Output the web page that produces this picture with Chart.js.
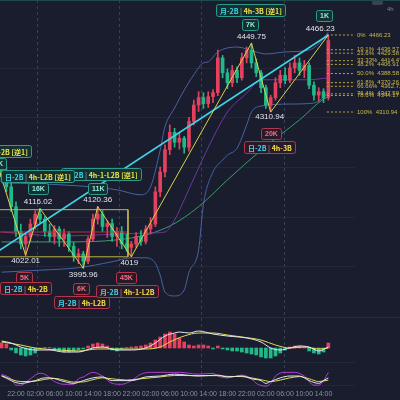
<!DOCTYPE html>
<html>
<head>
<meta charset="utf-8">
<title>XAUUSD 1h</title>
<script src="https://cdn.jsdelivr.net/npm/chart.js@4.4.1/dist/chart.umd.min.js"></script>
<style>
  html, body { margin: 0; padding: 0; background: #191d2d; }
  #wrap { position: relative; width: 400px; height: 400px; overflow: hidden; background: #191d2d; }
  #wrap canvas { position: absolute; left: 0; }
  #price_chart { top: 0; }
  #macd_chart { top: 318px; }
  #kdj_chart { top: 365px; }
  .rule { position: absolute; left: 0; width: 400px; height: 1px; }
</style>
</head>
<body>
<div id="wrap">
  <canvas id="price_chart" width="400" height="318"></canvas>
  <canvas id="macd_chart" width="400" height="47"></canvas>
  <canvas id="kdj_chart" width="400" height="35"></canvas>
  <div class="rule" style="top:0;background:#1d4a4d"></div>
  <div class="rule" style="top:317px;background:#262b3c"></div>
</div>
<script>
// ---------- candles (1h), x = hours counted from 18:00 of day one ----------
const hours = [1,2,3,4,5,6,7,8,9,10,11,12,13,14,15,16,17,18,19,20,21,22,23,24,25,26,27,28,29,30,
  31,32,33,34,35,36,37,38,39,40,41,42,43,44,45,46,47,48,49,50,51,52,53,54,55,56,57,58,59,60,
  61,62,63,64,65,66,67,68,69];
const open = [4200,4180,4160,4120,4070,4045,4060,4085,4105,4095,
  4070,4060,4075,4055,4065,4040,4020,4025,4010,4055,
  4095,4105,4080,4086,4060,4070,4045,4038,4045,4060,
  4050,4075,4085,4150,4190,4235,4270,4250,4258,4240,
  4292,4325,4340,4328,4342,4350,4420,4390,4370,4395,
  4380,4420,4435,4410,4390,4360,4325,4340,4370,4385,
  4375,4400,4410,4395,4405,4365,4345,4352,4340];
const high = [4215,4200,4170,4130,4085,4065,4095,4112,4116.02,4100,
  4085,4082,4080,4075,4070,4048,4035,4030,4060,4105,
  4120.36,4112,4092,4095,4078,4080,4065,4050,4068,4072,
  4082,4098,4160,4200,4245,4285,4278,4268,4262,4300,
  4335,4352,4350,4352,4356,4436,4425,4398,4405,4402,
  4430,4442,4449.75,4418,4395,4365,4345,4380,4395,4400,
  4410,4425,4420,4415,4410,4372,4360,4358,4466.23];
const low = [4170,4150,4110,4060,4035,4022.01,4050,4075,4088,4060,
  4050,4045,4040,4040,4030,4010,4005,3995.96,4005,4050,
  4085,4070,4058,4050,4040,4035,4030,4019,4038,4042,
  4045,4065,4080,4140,4180,4225,4240,4236,4228,4232,
  4285,4312,4318,4320,4330,4344,4380,4358,4362,4370,
  4375,4410,4400,4382,4350,4318,4310.94,4335,4360,4368,
  4370,4390,4385,4380,4358,4335,4332,4330,4335];
const close = [4180,4160,4120,4070,4045,4060,4085,4105,4095,4070,
  4060,4075,4055,4065,4040,4020,4025,4010,4055,4095,
  4105,4080,4086,4060,4070,4045,4038,4045,4060,4050,
  4075,4085,4150,4190,4235,4270,4250,4258,4240,4292,
  4325,4340,4328,4342,4350,4420,4390,4370,4395,4380,
  4420,4435,4410,4390,4360,4325,4340,4370,4385,4375,
  4400,4410,4395,4405,4365,4345,4352,4340,4455];

// time axis
const tickHours = [4,8,12,16,20,24,28,32,36,40,44,48,52,56,60,64,68];
const tickLabels = ['22:00','02:00','06:00','10:00','14:00','18:00','22:00','02:00','06:00',
  '10:00','14:00','18:00','22:00','02:00','06:00','10:00','14:00'];
const gridHours = [8.4, 25.5, 42.6, 59.7];

// bollinger bands and moving averages (read at a few hours)
const bbUpperHours = [1,9,17,25,30,32,34,35,37,39,41,43,44,46,50,54,56,60,65,67,69];
const bbUpper = [4168,4166,4162,4154,4144,4160,4234,4281,4319,4355,4386,4410,4412,4432,4442,4432,4428,4432,4436,4448,4472];
const bbLowerHours = [1,9,17,24,28,31,33,34,35,37,39,40,42,43,45,47,48,50,52,53,55,61,66,69];
const bbLower = [3988,3992,3997,4009,4017,4017,4006,3982,3948,3940,3952,3988,4033,4124,4190,4214,4224,4238,4285,4311,4323,4327,4329,4349];
const maPurpleHours = [1,13,26,32,35,37,39,42,45,48,52,55,61,65,69];
const maPurple = [4069,4061,4065,4067,4069,4093,4134,4198,4259,4311,4349,4376,4376,4376,4380];
const maGreenHours = [1,13,28,36,42,48,55,59,63,68,69];
const maGreen = [4049,4049,4057,4081,4120,4174,4234,4265,4295,4337,4341];

// drawings
const zigzagHours = [-1,6,9,18,21,28,53,57,69];
const zigzagPrices = [4240,4022.01,4116.02,3995.96,4120.36,4019,4449.75,4310.94,4466.23];
const trendHours = [0, 69];
const trendPrices = [4028.5, 4466.23];
const rangeHours = [-1, 27.3];
const rangePrices = [4114, 4019];
const redLinePrice = 4069;
const fibNames = ['0%','19.1%','23.6%','33.33%','38.2%','50.0%','61.8%','66.66%','76.4%','78.6%','100%'];
const fibPrices = [4466.23,4436.57,4429.58,4414.47,4406.91,4388.58,4370.26,4362.71,4347.59,4344.17,4310.94];
const fibStart = 68.7;

// MACD
const macdHist = [2.5,2,-1,-2.5,-3.5,-4,-3.5,-2.5,-0.5,0.25,
  0.25,-1,-1.5,-2,-2,-1.5,-1,-0.5,1,2,
  2.5,2,1,-1,-1.5,-0.5,0.25,0.5,0.75,1,
  1.5,2.5,4,5.5,7,8,7,5,3,1.5,
  1,1.5,1.5,1,-0.5,1,-0.5,-1,-1.5,-1.5,
  -2,-2.5,-3,-3.5,-4.5,-5,-5,-4,-2.5,-1,
  0.5,1,1,0.5,-1.5,-2.5,-3,-2,2.5];
const difHours = [1,3,5,8,11,14,17,20,22,25,28,31,33,35,37,38,40,42,45,48,52,55,57,59,61,63,65,67,69];
const dif = [3.5,2.5,0.5,-1,-1,-2,-2,0,0.5,-1,-1,0,2.5,6,7.5,8,7.5,8.5,7,6,5,3,0,-1,0,1,0.5,-1.5,0.5];
const deaHours = [1,5,8,13,17,21,25,31,34,36,39,42,45,48,51,55,58,61,64,67,69];
const dea = [3,1.5,0,-1,-1.5,-0.5,-0.5,-0.5,0.5,3,6,7.5,7.5,6.5,5.5,4,1.5,0,0.5,-0.5,0];

// KDJ
const kHours = [1,5,8,10,11,14,16,18,20,22,24,28,31,34,37,42,46,48,51,53,55,56,57,59,61,63,65,67,68,69];
const kLine = [60,20,35,50,50,30,20,35,50,55,35,35,55,60,70,60,65,55,60,45,35,20,30,50,60,60,35,20,35,50];
const dHours = [1,5,8,10,12,14,16,18,20,22,24,27,30,34,37,42,46,48,51,53,55,57,59,61,63,65,67,69];
const dLine = [62,30,32,42,47,38,27,28,40,50,45,38,45,55,63,62,62,58,57,50,40,30,38,50,57,45,30,38];
const jHours = [1,3,4,5,7,9,10,12,14,16,17,18,20,22,24,26,28,30,32,34,38,42,45,46,48,51,53,54,56,57,58,60,62,64,66,67,68,69];
const jLine = [70,45,10,10,45,75,70,30,15,15,45,55,80,60,20,15,35,70,80,80,80,70,75,60,50,65,45,20,5,20,60,80,80,60,10,10,35,80];

// tags next to pivots: [hour, price, dx, dy, kind, text, text2]
const pivotTags = [
  [-1, 4240, 5, 4, 'boxTeal', '日-2B', '4h-2B [逆1]'],
  [-1, 4240, 6, 16, 'kTeal', '8K'],
  [21, 4120.36, 3, -33, 'boxTeal', '日-2B', '4h-1-L2B [逆1]'],
  [21, 4120.36, 0, -18, 'kTeal', '11K'],
  [21, 4120.36, 0, -7, 'price', '4120.36'],
  [9, 4116.02, -3, -33, 'boxTeal', '日-2B', '4h-L2B [逆1]'],
  [9, 4116.02, -2, -20, 'kTeal', '16K'],
  [9, 4116.02, -2, -7, 'price', '4116.02'],
  [6, 4022.01, 0, 5, 'price', '4022.01'],
  [6, 4022.01, -2, 22, 'kRed', '5K'],
  [6, 4022.01, 0, 33, 'boxRed', '日-2B', '4h-2B'],
  [18, 3995.96, 0, 7, 'price', '3995.96'],
  [18, 3995.96, -2, 20, 'kRed', '6K'],
  [18, 3995.96, -2, 34, 'boxRed', '月-2B', '4h-L2B'],
  [28, 4019, -2, 6, 'price', '4019'],
  [28, 4019, -5, 21, 'kRed', '45K'],
  [28, 4019, -4, 34, 'boxRed', '月-2B', '4h-1-L2B'],
  [53, 4449.75, 0, -6, 'price', '4449.75'],
  [53, 4449.75, -1, -19, 'kTeal', '7K'],
  [53, 4449.75, -1, -33, 'boxTeal', '月-2B', '4h-3B [逆1]'],
  [57, 4310.94, -1, 5, 'price', '4310.94'],
  [57, 4310.94, 0, 21, 'kRed', '20K'],
  [57, 4310.94, -1, 35, 'boxRed', '日-2B', '4h-3B'],
  [69, 4466.23, -8, -6, 'price', '4466.23'],
  [69, 4466.23, -4, -19, 'kTeal', '1K'],
];

// ---------- setup ----------
const x_min = 0.67, x_max = 74.55;
const up_color = '#e4415f', down_color = '#1fb98a';

Chart.defaults.font.family = '"Liberation Sans", "DejaVu Sans", sans-serif';
Chart.defaults.animation = false;

const pts = (xs, ys) => xs.map((h, i) => ({ x: h, y: ys[i] }));

const line = (data, color, extra) => Object.assign({
  type: 'line', data: data, borderColor: color, borderWidth: 1,
  pointRadius: 0, tension: 0, fill: false
}, extra || {});

const x_axis = (show) => ({
  type: 'linear', min: x_min, max: x_max, offset: false, display: show,
  grid: { display: false, drawTicks: false }, border: { display: false },
  afterBuildTicks: axis => { axis.ticks = tickHours.map(v => ({ value: v })); },
  ticks: {
    color: '#8a8fa1', font: { size: 7 }, padding: 2, autoSkip: false, maxRotation: 0,
    callback: value => tickLabels[tickHours.indexOf(value)]
  }
});

const grid_plugin = (hlines) => ({
  id: 'panelGrid',
  beforeDatasetsDraw(chart) {
    const { ctx, chartArea: a, scales: { x, y } } = chart;
    ctx.save();
    ctx.lineWidth = 1;
    ctx.strokeStyle = '#232839';
    hlines.forEach(v => {
      const py = Math.round(y.getPixelForValue(v)) + 0.5;
      ctx.beginPath(); ctx.moveTo(a.left, py); ctx.lineTo(a.right, py); ctx.stroke();
    });
    ctx.strokeStyle = '#3a3f53';
    ctx.setLineDash([3, 3]);
    gridHours.forEach(h => {
      const px = Math.round(x.getPixelForValue(h)) + 0.5;
      ctx.beginPath(); ctx.moveTo(px, 0); ctx.lineTo(px, a.bottom); ctx.stroke();
    });
    ctx.restore();
  }
});

const drawTag = (ctx, cx, cy, kind, t1, t2) => {
  ctx.textBaseline = 'middle';
  if (kind === 'price') {
    ctx.font = '8px "Liberation Sans"';
    ctx.fillStyle = '#e3e5ec';
    ctx.textAlign = 'center';
    ctx.fillText(t1, cx, cy);
    return;
  }
  const red = kind.endsWith('Red');
  const small = kind.startsWith('k');
  let parts;
  if (small) {
    ctx.font = 'bold 7px "Liberation Sans"';
    parts = [[t1, red ? '#f07084' : '#93e9de']];
  } else {
    ctx.font = 'bold 7px "Noto Sans CJK SC"';
    parts = [[t1, '#3fd6ec'], [' | ', '#7d8494'], [t2, '#efe04a']];
  }
  const w = Math.round(parts.reduce((s, p) => s + ctx.measureText(p[0]).width, 0) + 7);
  const h = small ? 11 : 12;
  const left = Math.round(cx - w / 2) + 0.5, top = Math.round(cy - h / 2) + 0.5;
  ctx.beginPath();
  ctx.roundRect(left, top, w, h, 2);
  ctx.fillStyle = red ? '#2a1927' : '#14302f';
  ctx.fill();
  ctx.strokeStyle = red ? '#b3364f' : '#2a9b8e';
  ctx.lineWidth = 1;
  ctx.stroke();
  ctx.textAlign = 'left';
  let tx = left + 3.5;
  parts.forEach(([s, c]) => {
    ctx.fillStyle = c;
    ctx.fillText(s, tx, top + h / 2 + 0.5);
    tx += ctx.measureText(s).width;
  });
};

const label_plugin = {
  id: 'priceLabels',
  afterDraw(chart) {
    const { ctx, chartArea: a, scales: { x, y } } = chart;
    ctx.save();
    ctx.font = '6px "Liberation Sans"';
    ctx.fillStyle = '#cdb94c';
    ctx.textAlign = 'left';
    ctx.textBaseline = 'middle';
    fibPrices.forEach((p, i) => {
      ctx.fillText(fibNames[i] + '  ' + p.toFixed(2), a.right + 2, y.getPixelForValue(p));
    });
    pivotTags.forEach(t => {
      drawTag(ctx, x.getPixelForValue(t[0]) + t[2], y.getPixelForValue(t[1]) + t[3], t[4], t[5], t[6]);
    });
    // timeframe marker, top right
    ctx.fillStyle = '#3c4153';
    ctx.beginPath(); ctx.roundRect(372, 0, 11, 5, 2); ctx.fill();
    ctx.font = '6px "Liberation Sans"';
    ctx.fillStyle = '#7e8496';
    ctx.textAlign = 'left';
    ctx.fillText('4h', 387, 9);
    ctx.restore();
  }
};

// ---------- price chart ----------
const candle_colors = close.map((c, i) => c >= open[i] ? up_color : down_color);

const fib_sets = fibPrices.map(p => line([{ x: fibStart, y: p }, { x: x_max, y: p }], '#b9a640', { borderDash: [2, 2] }));

new Chart(document.getElementById('price_chart'), {
  type: 'bar',
  data: {
    datasets: [
      line(pts(zigzagHours, zigzagPrices), '#d9d24c'),
      line(pts(trendHours, trendPrices), '#3fd3e6', { borderWidth: 1.6 }),
      ...fib_sets,
      line([{ x: rangeHours[0], y: rangePrices[0] }, { x: rangeHours[1], y: rangePrices[0] }], '#bdb64a'),
      line([{ x: rangeHours[0], y: rangePrices[1] }, { x: rangeHours[1], y: rangePrices[1] }], '#bdb64a'),
      line([{ x: rangeHours[1], y: rangePrices[0] }, { x: rangeHours[1], y: rangePrices[1] }], '#bdb64a'),
      line([{ x: rangeHours[0], y: redLinePrice }, { x: rangeHours[1], y: redLinePrice }], '#b5303c'),
      {
        type: 'bar', data: hours.map((h, i) => ({ x: h, y: [open[i], close[i]] })),
        backgroundColor: candle_colors, barThickness: 3, grouped: false, minBarLength: 1
      },
      {
        type: 'bar', data: hours.map((h, i) => ({ x: h, y: [low[i], high[i]] })),
        backgroundColor: candle_colors, barThickness: 1, grouped: false
      },
      line(pts(maPurpleHours, maPurple), '#6c3a9a', { cubicInterpolationMode: 'monotone' }),
      line(pts(maGreenHours, maGreen), '#3a9c6b', { cubicInterpolationMode: 'monotone' }),
      line(pts(bbUpperHours, bbUpper), '#4a63a3', { cubicInterpolationMode: 'monotone' }),
      line(pts(bbLowerHours, bbLower), '#4a63a3', { cubicInterpolationMode: 'monotone' })
    ]
  },
  options: {
    responsive: false,
    layout: { padding: { left: 0, right: 45, top: 0, bottom: 0 } },
    plugins: { legend: { display: false }, tooltip: { enabled: false } },
    scales: {
      x: x_axis(false),
      y: { type: 'linear', display: false, min: 3895.6, max: 4536.8 }
    }
  },
  plugins: [grid_plugin([4000, 4100, 4200, 4300, 4400]), label_plugin]
});

// ---------- MACD ----------
new Chart(document.getElementById('macd_chart'), {
  type: 'bar',
  data: {
    datasets: [
      line(pts(difHours, dif), '#e6e8ef', { cubicInterpolationMode: 'monotone' }),
      line(pts(deaHours, dea), '#e3dc55', { cubicInterpolationMode: 'monotone' }),
      {
        type: 'bar', data: hours.map((h, i) => ({ x: h, y: macdHist[i] })),
        backgroundColor: macdHist.map(v => v >= 0 ? up_color : down_color),
        barThickness: 3, grouped: false
      }
    ]
  },
  options: {
    responsive: false,
    layout: { padding: { left: 0, right: 45, top: 0, bottom: 0 } },
    plugins: { legend: { display: false }, tooltip: { enabled: false } },
    scales: {
      x: x_axis(false),
      y: { type: 'linear', display: false, min: -8.5, max: 15 }
    }
  },
  plugins: [grid_plugin([-7])]
});

// ---------- KDJ ----------
new Chart(document.getElementById('kdj_chart'), {
  type: 'line',
  data: {
    datasets: [
      line(pts(kHours, kLine), '#e6e8ef', { cubicInterpolationMode: 'monotone' }),
      line(pts(dHours, dLine), '#e3dc55', { cubicInterpolationMode: 'monotone' }),
      line(pts(jHours, jLine), '#b03fd4', { cubicInterpolationMode: 'monotone' })
    ]
  },
  options: {
    responsive: false,
    layout: { padding: { left: 0, right: 45, top: 0, bottom: 0 } },
    plugins: { legend: { display: false }, tooltip: { enabled: false } },
    scales: {
      x: x_axis(true),
      y: { type: 'linear', display: false, min: -3, max: 120 }
    }
  },
  plugins: [grid_plugin([10])]
});
</script>
</body>
</html>
